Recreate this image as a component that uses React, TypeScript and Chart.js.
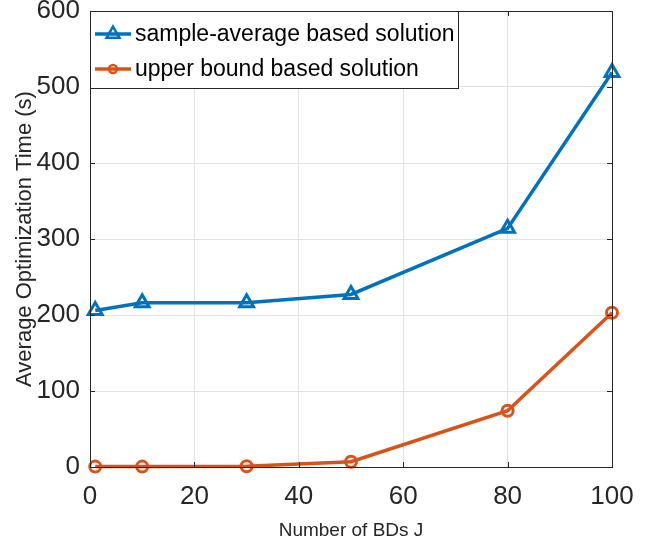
import React, { useEffect, useRef } from "react";
import { Chart, registerables } from "chart.js";

Chart.register(...registerables);

const bdCounts = [1, 10, 30, 50, 80, 100];
const sampleAverageTimes = [206, 216, 216, 227, 314, 519];
const upperBoundTimes = [0.5, 0.5, 1, 7, 74, 203];
const xTicks = [0, 20, 40, 60, 80, 100];
const yTicks = [0, 100, 200, 300, 400, 500, 600];
const seriesLabels = ["sample-average based solution", "upper bound based solution"];
const xTitle = "Number of BDs J";
const yTitle = "Average Optimization Time (s)";

const BLUE = "#0072BD";
const ORANGE = "#D95319";
const AXIS = "#262626";
const GRID = "#e3e3e3";
const FONT = "'Liberation Sans', Arial, Helvetica, sans-serif";

const framePlugin = {
  id: "matlabFrame",
  afterDraw(chart: any) {
    const { ctx, chartArea: a, scales } = chart;
    const xs = scales.x;
    const ys = scales.y;
    ctx.save();
    ctx.strokeStyle = AXIS;
    ctx.lineWidth = 1;
    ctx.beginPath();
    for (const t of xTicks) {
      const px = Math.round(xs.getPixelForValue(t)) + 0.5;
      ctx.moveTo(px, a.bottom);
      ctx.lineTo(px, a.bottom - 5);
      ctx.moveTo(px, a.top);
      ctx.lineTo(px, a.top + 5);
    }
    for (const t of yTicks) {
      const py = Math.round(ys.getPixelForValue(t)) + 0.5;
      ctx.moveTo(a.left, py);
      ctx.lineTo(a.left + 5, py);
      ctx.moveTo(a.right, py);
      ctx.lineTo(a.right - 5, py);
    }
    ctx.stroke();

    const lx = a.left;
    const ly = a.top;
    const lw = 368;
    const lh = 77;
    ctx.fillStyle = "#ffffff";
    ctx.fillRect(lx, ly, lw, lh);
    ctx.strokeStyle = AXIS;
    ctx.lineWidth = 1;
    ctx.strokeRect(lx + 0.5, ly + 0.5, lw, lh);

    const rows = [
      { label: seriesLabels[0], color: BLUE, marker: "triangle", y: ly + 23 },
      { label: seriesLabels[1], color: ORANGE, marker: "circle", y: ly + 58 },
    ];
    for (const r of rows) {
      ctx.strokeStyle = r.color;
      ctx.lineWidth = 3.5;
      ctx.beginPath();
      ctx.moveTo(lx + 5, r.y);
      ctx.lineTo(lx + 41, r.y);
      ctx.stroke();
      const cx = lx + 23;
      ctx.lineWidth = 2.5;
      ctx.beginPath();
      if (r.marker === "triangle") {
        const rad = 7.5;
        ctx.moveTo(cx, r.y - rad);
        ctx.lineTo(cx + Math.sin((2 * Math.PI) / 3) * rad, r.y + rad / 2);
        ctx.lineTo(cx - Math.sin((2 * Math.PI) / 3) * rad, r.y + rad / 2);
        ctx.closePath();
      } else {
        ctx.arc(cx, r.y, 4, 0, Math.PI * 2);
      }
      ctx.stroke();
      ctx.fillStyle = "#000000";
      ctx.font = `23px ${FONT}`;
      ctx.textBaseline = "middle";
      ctx.textAlign = "left";
      ctx.fillText(r.label, lx + 45, r.y + 1);
    }

    ctx.strokeStyle = AXIS;
    ctx.lineWidth = 1;
    ctx.strokeRect(
      Math.round(a.left) + 0.5,
      Math.round(a.top) + 0.5,
      Math.round(a.right - a.left),
      Math.round(a.bottom - a.top)
    );
    ctx.restore();
  },
};

export default function App() {
  const canvasRef = useRef<HTMLCanvasElement | null>(null);

  useEffect(() => {
    if (!canvasRef.current) return;
    const chart = new Chart(canvasRef.current, {
      type: "line",
      data: {
        datasets: [
          {
            label: seriesLabels[0],
            data: bdCounts.map((x, i) => ({ x, y: sampleAverageTimes[i] })),
            borderColor: BLUE,
            backgroundColor: "rgba(0,0,0,0)",
            borderWidth: 3.5,
            pointStyle: "triangle",
            pointRadius: 8,
            pointBorderWidth: 3,
            pointBorderColor: BLUE,
            pointBackgroundColor: "rgba(0,0,0,0)",
            tension: 0,
            clip: false as any,
          },
          {
            label: seriesLabels[1],
            data: bdCounts.map((x, i) => ({ x, y: upperBoundTimes[i] })),
            borderColor: ORANGE,
            backgroundColor: "rgba(0,0,0,0)",
            borderWidth: 3.5,
            pointStyle: "circle",
            pointRadius: 5.5,
            pointBorderWidth: 3,
            pointBorderColor: ORANGE,
            pointBackgroundColor: "rgba(0,0,0,0)",
            tension: 0,
            clip: false as any,
          },
        ],
      },
      options: {
        animation: false,
        responsive: false,
        devicePixelRatio: 1,
        layout: { padding: { left: 0, top: 10, right: 40, bottom: 0 } },
        plugins: {
          legend: { display: false },
          tooltip: { enabled: false },
        },
        scales: {
          x: {
            type: "linear",
            min: 0,
            max: 100,
            afterBuildTicks: (s: any) => {
              s.ticks = xTicks.map((v) => ({ value: v }));
            },
            afterFit: (s: any) => {
              s.height = 81;
              s.paddingLeft = 0;
              s.paddingRight = 0;
            },
            grid: { color: GRID, drawTicks: false, lineWidth: 1 },
            border: { display: false },
            ticks: {
              color: AXIS,
              padding: 14,
              maxRotation: 0,
              font: { family: FONT, size: 26 },
            },
            title: {
              display: true,
              text: xTitle,
              color: AXIS,
              font: { family: FONT, size: 19 },
              padding: { top: 0, bottom: 6 },
            },
          },
          y: {
            type: "linear",
            min: 0,
            max: 600,
            afterBuildTicks: (s: any) => {
              s.ticks = yTicks.map((v) => ({ value: v }));
            },
            afterFit: (s: any) => {
              s.width = 90;
              s.paddingTop = 0;
              s.paddingBottom = 0;
            },
            grid: { color: GRID, drawTicks: false, lineWidth: 1 },
            border: { display: false },
            ticks: {
              color: AXIS,
              padding: 10,
              font: { family: FONT, size: 26 },
            },
            title: {
              display: true,
              text: yTitle,
              color: AXIS,
              font: { family: FONT, size: 22 },
              padding: { top: 12, bottom: 0 },
            },
          },
        },
      },
      plugins: [framePlugin],
    });
    return () => chart.destroy();
  }, []);

  return (
    <div style={{ position: "fixed", left: 0, top: 0, width: 652, height: 548, background: "#fff" }}>
      <canvas ref={canvasRef} width={652} height={548} style={{ width: 652, height: 548, display: "block" }} />
    </div>
  );
}
